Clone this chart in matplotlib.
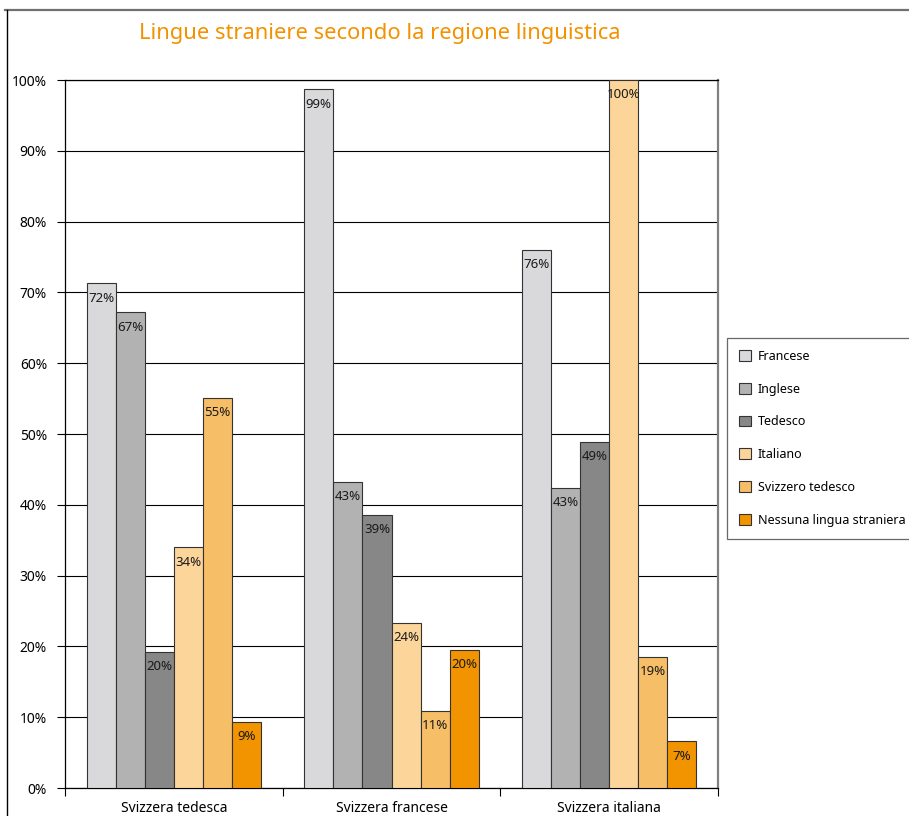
import matplotlib
matplotlib.use("Agg")
import matplotlib.pyplot as plt
from matplotlib.lines import Line2D
import numpy as np

plt.rcParams['font.family'] = ['Noto Sans', 'DejaVu Sans']

categories = ["Svizzera tedesca", "Svizzera francese", "Svizzera italiana"]
series = ["Francese", "Inglese", "Tedesco", "Italiano", "Svizzero tedesco",
          "Nessuna lingua straniera"]
values = {
    "Francese": [71.3, 98.7, 76.0],
    "Inglese": [67.2, 43.2, 42.4],
    "Tedesco": [19.2, 38.6, 48.9],
    "Italiano": [34.0, 23.3, 100.0],
    "Svizzero tedesco": [55.1, 10.9, 18.5],
    "Nessuna lingua straniera": [9.3, 19.5, 6.6],
}
labels = {
    "Francese": ["72%", "99%", "76%"],
    "Inglese": ["67%", "43%", "43%"],
    "Tedesco": ["20%", "39%", "49%"],
    "Italiano": ["34%", "24%", "100%"],
    "Svizzero tedesco": ["55%", "11%", "19%"],
    "Nessuna lingua straniera": ["9%", "20%", "7%"],
}
colors = ["#D9D9DB", "#B2B2B2", "#878787", "#FBD59A", "#F6BF67", "#F29400"]
yticks = [0, 10, 20, 30, 40, 50, 60, 70, 80, 90, 100]
title = "Lingue straniere secondo la regione linguistica"

W, H = 909, 816
fig = plt.figure(figsize=(W / 100, H / 100), dpi=100)
ax = fig.add_axes([65 / W, 1 - 788 / H, (718 - 65) / W, (788 - 80) / H])

x = np.arange(len(categories))
w = 0.1335
for i, s in enumerate(series):
    pos = x + (i - 2.5) * w
    bars = ax.bar(pos, values[s], width=w, color=colors[i], edgecolor="#333333",
                  linewidth=0.8, label=s, zorder=3)
    for b, lab in zip(bars, labels[s]):
        ax.annotate(lab, (b.get_x() + b.get_width() / 2, b.get_height()),
                    xytext=(0, -6), textcoords="offset points",
                    ha="center", va="top", fontsize=9.5, color="#1a1a1a", zorder=4)

ax.set_xlim(-0.5, 2.5)
ax.set_ylim(0, 100)
ax.set_yticks(yticks)
ax.set_yticklabels([f"{t}%" for t in yticks], fontsize=10)
ax.yaxis.grid(True, color="#000000", linewidth=0.8, zorder=0)
ax.set_axisbelow(True)
ax.tick_params(axis="y", length=6, width=0.8, pad=7, direction="out")

ax.set_xticks(x)
ax.set_xticklabels(categories, fontsize=10)
ax.tick_params(axis="x", which="major", length=0, pad=9)
ax.set_xticks([-0.5, 0.5, 1.5, 2.5], minor=True)
ax.tick_params(axis="x", which="minor", length=6, width=0.8, direction="out")

for sp in ["left", "bottom", "top"]:
    ax.spines[sp].set_color("#000000")
    ax.spines[sp].set_linewidth(0.9)
ax.spines["right"].set_color("#808080")
ax.spines["right"].set_linewidth(1.6)

fig.legend(loc="upper left", bbox_to_anchor=(727 / W, 1 - 338 / H),
           fontsize=9, frameon=True, fancybox=False, edgecolor="#444444",
           handlelength=0.95, handleheight=0.95, handletextpad=0.55,
           labelspacing=1.58, borderpad=0.95, borderaxespad=0)
leg = fig.legends[0]
leg.get_frame().set_linewidth(0.9)

fig.text(139 / W, 1 - 33 / H, title, fontsize=15.8, color="#F39200",
         ha="left", va="center")

fig.add_artist(Line2D([5 / W, 1], [1 - 10 / H, 1 - 10 / H], color="#707070",
                      linewidth=1.6))
fig.add_artist(Line2D([7 / W, 7 / W], [0, 1 - 10 / H], color="#000000",
                      linewidth=1.0))

fig.savefig("out.png", dpi=100)
